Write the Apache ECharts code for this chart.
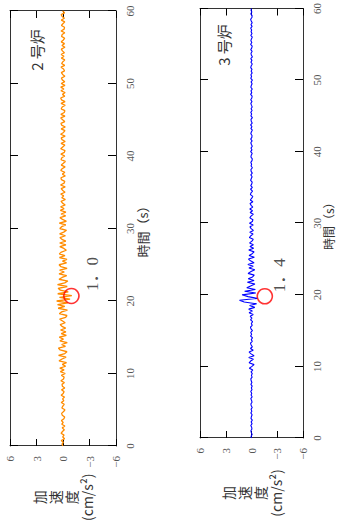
<!DOCTYPE html>
<html><head><meta charset="utf-8">
<script src="https://cdn.jsdelivr.net/npm/echarts@6/dist/echarts.min.js"></script>
<style>
html,body{margin:0;padding:0;width:337px;height:525px;overflow:hidden;background:#fff}
#c{position:absolute;left:0;top:0;width:525px;height:337px;transform-origin:0 0;transform:rotate(-90deg) translateX(-525px);}
</style></head><body><div id="c"></div>
<script>
// sampling interval of the traces (s)
const timeStep = 0.25;
// 2号炉 acceleration (cm/s^2), one value per 0.25 s, 0..60 s
const furnace2 = [
0,0.12,-0.05,0.2,-0.18,0.03,-0.12,0.22,0.06,-0.15,
0.09,-0.21,0.14,-0.03,0.18,-0.1,-0.19,0.08,0.16,-0.07,
-0.22,0.13,0.02,-0.14,0.2,-0.09,0.05,-0.17,0.21,-0.02,
-0.12,0.17,-0.2,0.07,0.11,-0.16,0.24,-0.06,-0.13,0.19,
-0.25,
0.3,-0.12,0.36,-0.3,0.08,-0.4,0.45,0.1,-0.35,0.5,
-0.2,-0.45,0.32,0.52,-0.28,0.15,-0.48,0.35,-0.05,0.42,
-0.38,0.2,-0.33,0.28,
-0.3,0.12,0.32,-0.25,0.05,0.38,-0.3,-0.45,0.42,0.15,-0.5,0.55,-0.2,0.62,
-0.55,0.72,-0.8,0.4,-1.0,0.6,
-0.6,0.3,0.55,-0.48,0.62,-0.2,-0.55,0.45,
0.1,-0.42,0.45,-0.15,0.38,-0.46,0.25,0.44,-0.4,0.06,
-0.45,0.4,-0.22,0.42,0.18,-0.38,-0.1,0.36,-0.33,0.38,
-0.32,0.12,0.35,-0.28,0.38,-0.08,-0.4,0.36,0.15,-0.32,
0.42,-0.38,0.05,0.34,-0.3,0.22,-0.33,0.3,-0.12,0.27,
-0.25,0.05,0.22,-0.27,0.14,-0.08,0.26,-0.23,0.02,0.21,
-0.25,0.28,-0.12,-0.2,0.18,0.23,-0.26,0.07,-0.21,0.25,
0.1,-0.24,0.2,-0.04,-0.27,0.22,0.13,-0.2,0.24,-0.15,
-0.23,0.26,0.03,-0.21,0.22,-0.25,0.11,0.2,-0.24,0.27,
-0.06,-0.22,0.21,-0.26,0.15,0.23,-0.2,0.04,0.25,-0.22,
0.24,-0.14,-0.21,0.2,0.09,-0.25,0.22,-0.23,0.17,0.26,
-0.2,0.06,-0.24,0.23,-0.1,0.25,-0.22,0.2,
-0.2,0.08,0.18,-0.21,0.04,0.19,-0.17,-0.06,0.22,-0.19,
0.16,0.02,-0.2,0.18,-0.11,0.21,-0.16,0.07,0.19,-0.22,
0.12,-0.17,0.2,-0.04,-0.19,0.16,0.09,-0.2,0.22,-0.13,
-0.17,0.18,0.01,-0.2,0.19,-0.16,0.1,0.21,-0.18,0.05
];
// 3号炉 acceleration (cm/s^2), one value per 0.25 s, 0..60 s
const furnace3 = [
0,0.05,-0.08,0.02,0.07,-0.05,-0.02,0.08,-0.07,0.04,
-0.09,0.06,0.01,-0.07,0.08,-0.04,0.05,-0.08,0.03,0.07,
-0.06,-0.01,0.08,-0.07,0.05,-0.03,0.09,-0.06,0.02,-0.08,
0.07,-0.05,0.04,0.08,-0.07,0.01,-0.09,0.06,
-0.15,0.25,-0.05,-0.3,0.28,0.1,-0.22,0.32,-0.3,0.05,0.28,-0.2,0.12,
-0.1,0.04,0.12,-0.09,0.03,-0.12,0.1,-0.02,0.09,-0.11,0.06,0.12,-0.08,0.02,-0.13,0.11,-0.05,0.15,
-0.2,0.28,-0.1,0.32,-0.38,0.22,
-0.6,0.85,1.4,-0.7,0.4,1.1,-0.5,0.8,
-0.45,0.55,0.1,-0.4,0.48,-0.3,
0.38,-0.12,-0.32,0.4,0.05,-0.38,0.3,-0.2,0.42,-0.3,
0.12,0.35,-0.33,0.28,-0.08,-0.3,0.32,-0.25,0.18,-0.22,
0.22,-0.05,-0.2,0.25,0.08,-0.18,0.2,-0.22,0.04,0.18,
-0.2,0.23,-0.1,-0.17,0.19,0.06,-0.21,0.16,-0.12,0.2,
-0.15,0.04,0.17,-0.16,0.14,-0.03,-0.15,0.13,0.06,-0.12,
0.11,-0.1,
0.09,-0.03,-0.08,0.1,0.02,-0.07,0.08,-0.09,0.04,0.07,
-0.1,0.05,-0.02,0.08,-0.06,-0.09,0.07,0.03,-0.08,0.1,
-0.05,0.06,-0.09,0.01,0.08,-0.07,0.09,-0.04,-0.06,0.08,
0.02,-0.09,0.07,-0.05,0.1,-0.08,0.03,0.06,-0.1,0.07,
-0.02,0.09,-0.07,0.05,-0.08,0.01,0.08,-0.06,0.09,-0.04,
-0.07,0.1,-0.03,0.06,-0.09,0.08,0.02,-0.07,0.05,-0.1,
0.08,-0.01,0.07,-0.08,0.04,-0.06,0.09,0.03,-0.09,0.07,
-0.05,0.08,-0.1,0.02,0.06,-0.07,0.09,-0.03,-0.08,0.1,
-0.04,0.07,0.01,-0.09,0.08,-0.06,0.05,-0.02,0.09,-0.07,
0.06,-0.08,0.03,0.1,-0.05,-0.07,0.08,-0.04,0.06,0
];
const timeRange = [0, 60];
const timeInterval = 10;
const accelRange = [-6, 6];
const accelInterval = 3;
const panelTitles = ['2 号炉', '3 号炉'];
const peakLabels = ['1．0', '1．4'];
const peakMarks = [[20.7, -0.95], [19.8, -1.55]];
const seriesColors = ['#ff8c00', '#0000ff'];
const timeName = '時間（s）';
const accelName = '加\n速\n度\n(cm/s²)';

const chart = echarts.init(document.getElementById('c'), null, {renderer: 'svg', width: 525, height: 337});
const numFont = '"Liberation Serif", serif';
const jpFont = '"Noto Sans CJK JP", sans-serif';
const grids = [
  {left: 79, top: 10, width: 435, height: 106},
  {left: 87, top: 200, width: 430, height: 103}
];
const xAxes = [], yAxes = [], series = [];
const lineCol = '#333';
grids.forEach((g, i) => {
  const common = {gridIndex: i, type: 'value', min: timeRange[0], max: timeRange[1], interval: timeInterval,
    axisLine: {show: true, onZero: false, lineStyle: {color: lineCol, width: 1}},
    axisTick: {inside: true, length: 8, lineStyle: {color: '#000'}}, splitLine: {show: false}};
  xAxes.push(Object.assign({}, common, {position: 'bottom',
    name: timeName, nameLocation: 'middle', nameGap: i === 0 ? 20 : 17,
    nameTextStyle: {fontFamily: jpFont, fontSize: i === 0 ? 13 : 12, color: '#333'},
    axisLabel: {margin: 8, fontFamily: numFont, fontSize: 11, color: '#555'}}));
  xAxes.push(Object.assign({}, common, {position: 'top', axisLabel: {show: false}}));
  const ycommon = {gridIndex: i, type: 'value', min: accelRange[0], max: accelRange[1], interval: accelInterval,
    axisLine: {show: true, onZero: false, lineStyle: {color: lineCol, width: 1}},
    axisTick: {inside: true, length: 7, lineStyle: {color: '#000'}}, splitLine: {show: false}};
  yAxes.push(Object.assign({}, ycommon, {position: 'left',
    name: accelName, nameLocation: 'middle', nameRotate: 0, nameGap: i === 0 ? 49 : 55,
    nameTextStyle: {fontFamily: jpFont, fontSize: 14, color: '#333', align: 'center', verticalAlign: 'middle', lineHeight: 16},
    axisLabel: {margin: 10, fontFamily: numFont, fontSize: 11, color: '#555',
      formatter: v => v < 0 ? '−' + (-v) : String(v)}}));
  yAxes.push(Object.assign({}, ycommon, {position: 'right', axisLabel: {show: false}}));
  const vals = i === 0 ? furnace2 : furnace3;
  series.push({type: 'line', xAxisIndex: i * 2, yAxisIndex: i * 2, showSymbol: false, silent: true,
    sampling: null, animation: false,
    lineStyle: {color: seriesColors[i], width: i === 0 ? 1.3 : 1.1}, itemStyle: {color: seriesColors[i]},
    data: vals.map((v, k) => [k * timeStep, v])});
  series.push({type: 'scatter', xAxisIndex: i * 2, yAxisIndex: i * 2, symbol: 'circle', symbolSize: 15, z: 10,
    animation: false,
    itemStyle: {color: 'rgba(0,0,0,0)', borderColor: '#ff0000', borderWidth: 1.6},
    label: {show: true, position: 'inside', offset: i === 0 ? [22, 21] : [21, 15], formatter: peakLabels[i],
      fontFamily: numFont + ', ' + jpFont, fontSize: 17, color: '#222'},
    data: [peakMarks[i]]});
});
chart.setOption({
  animation: false,
  grid: grids,
  xAxis: xAxes,
  yAxis: yAxes,
  series: series,
  graphic: [
    {type: 'text', x: 475, y: 36, style: {text: panelTitles[0], fontFamily: jpFont, fontSize: 15, fill: '#333', align: 'center', verticalAlign: 'middle'}},
    {type: 'text', x: 480, y: 223, style: {text: panelTitles[1], fontFamily: jpFont, fontSize: 15, fill: '#333', align: 'center', verticalAlign: 'middle'}}
  ]
});
</script></body></html>
